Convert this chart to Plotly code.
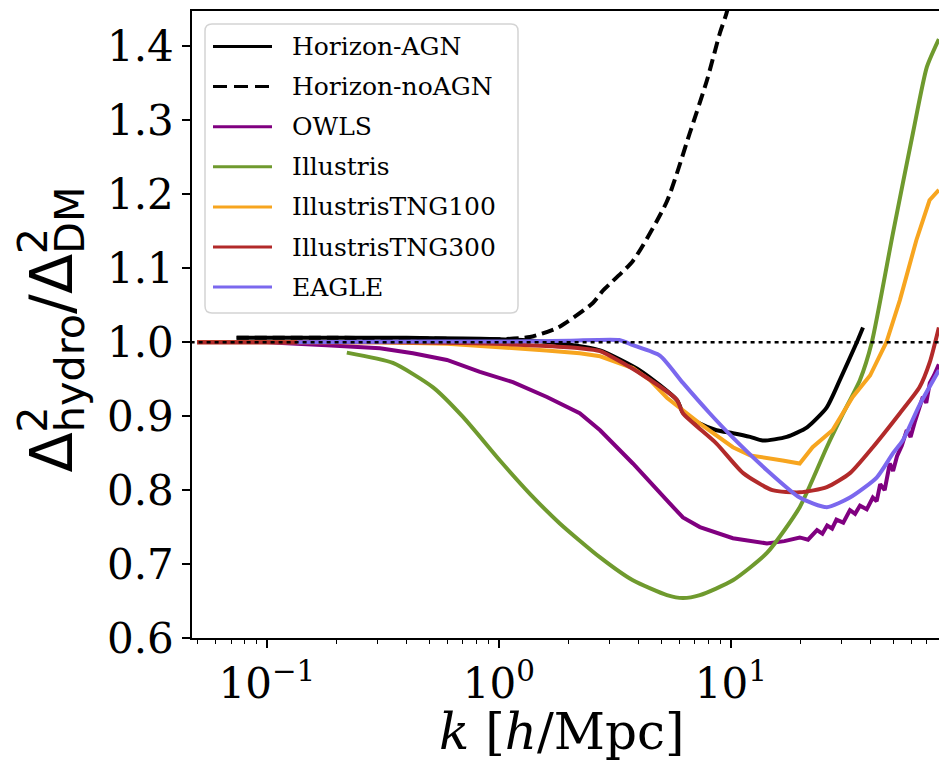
import plotly.graph_objects as go

# ---- data: k [h/Mpc] and ratio Delta^2_hydro / Delta^2_DM ----
k_agn = [0.074, 0.1, 0.2, 0.4, 0.7, 1.0, 1.4, 2.0, 2.73, 4.05, 5.85, 6.21, 7.35, 8.67, 10.2, 12.1, 13.7, 17.4, 21.3, 25.9, 29.5, 34.9, 37.1]
r_agn = [1.006, 1.006, 1.006, 1.006, 1.005, 1.004, 1.002, 0.997, 0.989, 0.962, 0.922, 0.905, 0.89, 0.881, 0.877, 0.872, 0.867, 0.872, 0.885, 0.912, 0.949, 1.0, 1.02]

k_noagn = [0.074, 0.2, 0.5, 1.0, 1.36, 1.8, 2.54, 2.81, 3.78, 5.29, 6.65, 7.88, 8.96, 9.63, 11.0]
r_noagn = [1.006, 1.006, 1.005, 1.004, 1.007, 1.02, 1.053, 1.07, 1.11, 1.19, 1.283, 1.354, 1.418, 1.448, 1.56]

k_owls = [0.05, 0.1, 0.181, 0.307, 0.426, 0.597, 0.828, 1.149, 1.61, 2.23, 2.73, 3.78, 5.30, 6.21, 7.35, 10.2, 14.3, 17.0, 19.8, 21.5, 23.5, 24.8, 26.0, 27.3, 28.5, 30.5, 32.6, 34.3, 36.0, 38.5, 40.9, 42.5, 44.0, 46.0, 48.4, 50.0, 52.0, 54.5, 57.3, 59.5, 62.0, 64.5, 67.2, 69.5, 72.0, 75.0, 78.8]
r_owls = [1.0, 1.0, 0.996, 0.992, 0.985, 0.976, 0.96, 0.946, 0.926, 0.904, 0.881, 0.836, 0.786, 0.763, 0.75, 0.735, 0.728, 0.731, 0.736, 0.733, 0.746, 0.741, 0.752, 0.748, 0.76, 0.756, 0.773, 0.768, 0.779, 0.774, 0.79, 0.785, 0.808, 0.80, 0.836, 0.826, 0.846, 0.86, 0.881, 0.872, 0.892, 0.91, 0.926, 0.918, 0.945, 0.955, 0.97]

k_ill = [0.221, 0.349, 0.52, 0.70, 1.01, 1.36, 1.83, 2.73, 3.78, 5.30, 6.21, 7.35, 10.2, 14.3, 19.8, 25.9, 30.5, 36.0, 40.5, 49.9, 60.9, 69.9, 78.8]
r_ill = [0.986, 0.972, 0.939, 0.899, 0.84, 0.795, 0.755, 0.709, 0.678, 0.658, 0.654, 0.658, 0.678, 0.715, 0.777, 0.858, 0.904, 0.949, 1.0, 1.147, 1.283, 1.372, 1.41]

k_tng100 = [0.05, 0.3, 0.6, 1.0, 1.6, 2.23, 2.73, 3.78, 4.47, 5.3, 7.35, 10.2, 12.1, 16.7, 19.8, 22.5, 27.4, 33.5, 39.8, 46.8, 53.5, 63.0, 71.8, 78.8]
r_tng100 = [1.0, 1.0, 0.998, 0.994, 0.989, 0.985, 0.981, 0.965, 0.949, 0.925, 0.89, 0.858, 0.847, 0.84, 0.836, 0.858, 0.881, 0.926, 0.955, 1.0, 1.057, 1.138, 1.192, 1.206]

k_tng300 = [0.05, 0.3, 0.7, 1.15, 1.6, 2.23, 2.73, 4.1, 5.85, 6.21, 8.67, 11.3, 15.1, 19.8, 25.9, 32.6, 40.9, 53.5, 65.0, 72.0, 78.8]
r_tng300 = [1.0, 1.0, 0.999, 0.997, 0.995, 0.992, 0.988, 0.957, 0.922, 0.904, 0.863, 0.823, 0.80, 0.797, 0.804, 0.823, 0.858, 0.904, 0.939, 0.973, 1.02]

k_eagle = [0.135, 0.5, 1.0, 2.0, 3.3, 3.78, 4.94, 6.21, 8.1, 10.2, 14.3, 19.8, 25.9, 32.6, 42.5, 50.0, 55.0, 65.0, 78.8]
r_eagle = [1.0, 1.001, 1.001, 1.002, 1.003, 0.996, 0.982, 0.945, 0.904, 0.871, 0.827, 0.79, 0.777, 0.79, 0.817, 0.85, 0.867, 0.915, 0.962]

names = ["Horizon-AGN", "Horizon-noAGN", "OWLS", "Illustris",
         "IllustrisTNG100", "IllustrisTNG300", "EAGLE"]
colors = ["#000000", "#000000", "#800080", "#6f9a2e",
          "#f7a51f", "#b22a2a", "#7b68ee"]
dashes = ["solid", "12px,6px", "solid", "solid", "solid", "solid", "solid"]
shapes_ = ["spline", "spline", "linear", "spline", "linear", "spline", "spline"]
series = [(k_agn, r_agn), (k_noagn, r_noagn), (k_owls, r_owls), (k_ill, r_ill),
          (k_tng100, r_tng100), (k_tng300, r_tng300), (k_eagle, r_eagle)]

x_tickvals = [0.1, 1, 10]
x_ticktext = ["10<sup>\u22121</sup>", "10<sup>0</sup>", "10<sup>1</sup>"]
x_minor = [0.05, 0.06, 0.07, 0.08, 0.09, 0.2, 0.3, 0.4, 0.5, 0.6, 0.7, 0.8, 0.9,
           2, 3, 4, 5, 6, 7, 8, 9, 20, 30, 40, 50, 60, 70]
y_tickvals = [0.6, 0.7, 0.8, 0.9, 1.0, 1.1, 1.2, 1.3, 1.4]
y_ticktext = ["0.6", "0.7", "0.8", "0.9", "1.0", "1.1", "1.2", "1.3", "1.4"]

# ---- page geometry (pixels) ----
W, H = 939, 761
L, R, T, B = 192, 0, 11, 123
PW, PH = W - L - R, H - T - B


def px(xp):
    return (xp - L) / PW


def py(yp):
    return (H - B - yp) / PH


SERIF = "DejaVu Serif"
SANS = "DejaVu Sans"

fig = go.Figure()
for (kk, rr), nm, c, d, s in zip(series, names, colors, dashes, shapes_):
    fig.add_trace(go.Scatter(x=kk, y=rr, mode="lines", name=nm,
                             line=dict(color=c, width=4, dash=d, shape=s,
                                       smoothing=0.6 if s == "spline" else None),
                             showlegend=False))

# reference line at unity
fig.add_trace(go.Scatter(x=[0.04, 100], y=[1.0, 1.0], mode="lines",
                         line=dict(color="black", width=2.5, dash="4px,4px"),
                         showlegend=False))

fig.update_layout(
    width=W, height=H,
    margin=dict(l=L, r=R, t=T, b=B, pad=0),
    paper_bgcolor="white", plot_bgcolor="white",
    showlegend=False,
)
fig.update_xaxes(
    type="log", range=[-1.323, 1.897],
    tickmode="array", tickvals=x_tickvals, ticktext=x_ticktext,
    ticks="outside", ticklen=8, tickwidth=1.5, tickcolor="black",
    minor=dict(tickmode="array", tickvals=x_minor, ticks="outside",
               ticklen=4, tickwidth=1.2, tickcolor="black", showgrid=False),
    showline=True, linewidth=1.5, linecolor="black", mirror=True,
    showgrid=False, zeroline=False,
    tickfont=dict(family=SERIF, size=42, color="black"),
)
fig.update_yaxes(
    range=[0.6, 1.448],
    tickmode="array", tickvals=y_tickvals, ticktext=y_ticktext,
    ticks="outside", ticklen=8, tickwidth=1.5, tickcolor="black",
    showline=True, linewidth=1.5, linecolor="black", mirror=False,
    showgrid=False, zeroline=False,
    tickfont=dict(family=SERIF, size=42, color="black"),
)

# ---- legend box ----
x0, x1, y0, y1 = px(205), px(518), py(313), py(24)
rx, ry = 7 / PW, 7 / PH
path = (f"M {x0 + rx},{y0} L {x1 - rx},{y0} Q {x1},{y0} {x1},{y0 + ry} "
        f"L {x1},{y1 - ry} Q {x1},{y1} {x1 - rx},{y1} L {x0 + rx},{y1} "
        f"Q {x0},{y1} {x0},{y1 - ry} L {x0},{y0 + ry} Q {x0},{y0} {x0 + rx},{y0} Z")
shapes = [dict(type="path", path=path, xref="paper", yref="paper",
               line=dict(color="#d4d4d4", width=1.5), fillcolor="white",
               layer="above")]
annotations = []
for i, (nm, c, d) in enumerate(zip(names, colors, dashes)):
    yc = 46.5 + 40.1 * i
    shapes.append(dict(type="line", xref="paper", yref="paper",
                       x0=px(213), x1=px(272), y0=py(yc), y1=py(yc),
                       line=dict(color=c, width=3,
                                 dash="14px,7px" if d != "solid" else "solid"),
                       layer="above"))
    annotations.append(dict(text=nm, xref="paper", yref="paper",
                            x=px(290), y=py(yc), xanchor="left", yanchor="middle",
                            showarrow=False,
                            font=dict(family=SERIF, size=25, color="black")))

# ---- axis titles ----
annotations.append(dict(text="<i>k</i> [<i>h</i>/Mpc]", xref="paper", yref="paper",
                        x=px(561), y=py(732), xanchor="center", yanchor="middle",
                        showarrow=False,
                        font=dict(family=SERIF, size=50, color="black")))

INV = "<span style='color:rgba(0,0,0,0)'>{}</span>"
ylab_parts = [
    "\u0394<sub>hydro</sub>/\u0394<sub>DM</sub>",
    INV.format("\u0394") + "<sup>2</sup>" + "<sub>" + INV.format("y") + "</sub>",
    INV.format("\u0394<sub>hydro</sub>/\u0394") + "<sup>2</sup>",
]
for t in ylab_parts:
    annotations.append(dict(text=t, xref="paper", yref="paper",
                            x=px(96), y=py(475), xanchor="right", yanchor="bottom",
                            textangle=-90, showarrow=False,
                            font=dict(family=SANS, size=59, color="black")))

fig.update_layout(shapes=shapes, annotations=annotations)
fig.write_html("out.html")
